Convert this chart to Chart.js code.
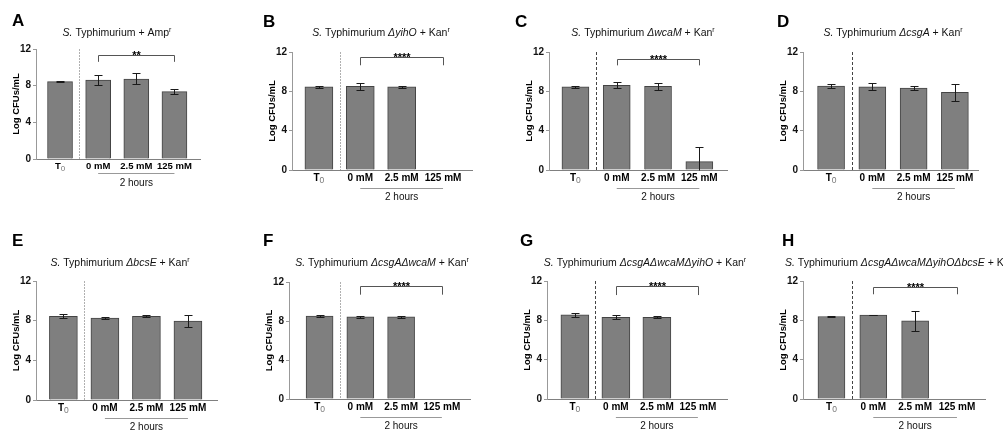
<!DOCTYPE html>
<html>
<head>
<meta charset="utf-8">
<script src="https://cdn.jsdelivr.net/npm/chart.js@4"></script>
<style>
body { margin: 0; background: #fff; width: 1003px; height: 431px; position: relative; overflow: hidden; }
canvas { position: absolute; }
</style>
</head>
<body>
<script>
// categories and axis ticks
var conditions = ["T0", "0 mM", "2.5 mM", "125 mM"];
var yTicks = [0, 4, 8, 12];
var groupLabel = "2 hours";

// mean Log CFUs/mL and error (SD) per panel
var meansA = [8.44, 8.62, 8.73, 7.35];  var errA = [0.05, 0.5, 0.6, 0.27];
var meansB = [8.45, 8.51, 8.45, 0];     var errB = [0.08, 0.33, 0.12, 0];
var meansC = [8.45, 8.61, 8.51, 0.85];  var errC = [0.08, 0.3, 0.33, 1.5];
var meansD = [8.54, 8.47, 8.34, 7.9];   var errD = [0.22, 0.33, 0.22, 0.85];
var meansE = [8.44, 8.27, 8.44, 7.97];  var errE = [0.22, 0.06, 0.1, 0.6];
var meansF = [8.5, 8.42, 8.42, 0];      var errF = [0.1, 0.1, 0.07, 0];
var meansG = [8.55, 8.31, 8.31, 0];     var errG = [0.22, 0.2, 0.08, 0];
var meansH = [8.39, 8.53, 7.95, 0];     var errH = [0.1, 0.03, 1.05, 0];

// strain deletions and resistance marker per panel
var strainsA = [];                                   var markerA = "Amp";
var strainsB = ["yihO"];                             var markerB = "Kan";
var strainsC = ["wcaM"];                             var markerC = "Kan";
var strainsD = ["csgA"];                             var markerD = "Kan";
var strainsE = ["bcsE"];                             var markerE = "Kan";
var strainsF = ["csgA", "wcaM"];                     var markerF = "Kan";
var strainsG = ["csgA", "wcaM", "yihO"];             var markerG = "Kan";
var strainsH = ["csgA", "wcaM", "yihO", "bcsE"];     var markerH = "Kan";

// significance (0 mM vs 125 mM)
var starsA = "**", starsB = "****", starsC = "****", starsD = "", starsE = "", starsF = "****", starsG = "****", starsH = "****";

var FONT = "'Liberation Sans', Arial, sans-serif";
var Y_AXIS_W = 22;
var LIGHT = { color: "#b0b0b0", dash: [2, 1] };
var DARK = { color: "#444", dash: [3, 2] };

function makeTitle(strains, marker) {
    var segs = [["S.", "i"], [" Typhimurium ", ""]];
    for (let i = 0; i < strains.length; i++) {
        segs.push(["\u0394" + strains[i], "i"]);
    }
    segs.push([(strains.length ? " " : "") + "+ " + marker, ""]);
    segs.push(["r", "sup"]);
    return segs;
}

var panels = [
    { id: "A", means: meansA, errs: errA, title: makeTitle(strainsA, markerA), stars: starsA,
      cx: 0, cy: 0, cw: 250, ch: 215, axisX: 36, top: 49, bottom: 159, right: 200, xMin: -0.63, xMax: 3.67, barW: 25,
      letterX: 12, letterY: 21, titleX: 117, titleY: 32, dash: LIGHT, gaps: [7, 14, 24], lblSize: 9.5, br: [10.6, 11.35] },
    { id: "B", means: meansB, errs: errB, title: makeTitle(strainsB, markerB), stars: starsB,
      cx: 250, cy: 0, cw: 250, ch: 215, axisX: 292, top: 52, bottom: 170, right: 472, xMin: -0.65, xMax: 3.7, barW: 28,
      letterX: 263, letterY: 22, titleX: 381, titleY: 32, dash: LIGHT, gaps: [8, 18, 27], lblSize: 10, br: [10.65, 11.5] },
    { id: "C", means: meansC, errs: errC, title: makeTitle(strainsC, markerC), stars: starsC,
      cx: 500, cy: 0, cw: 250, ch: 215, axisX: 549, top: 52, bottom: 170, right: 727, xMin: -0.64, xMax: 3.67, barW: 27,
      letterX: 515, letterY: 22, titleX: 643, titleY: 32, dash: DARK, gaps: [8, 18, 27], lblSize: 10, br: [10.64, 11.3] },
    { id: "D", means: meansD, errs: errD, title: makeTitle(strainsD, markerD), stars: starsD,
      cx: 750, cy: 0, cw: 253, ch: 215, axisX: 803, top: 52, bottom: 170, right: 978, xMin: -0.68, xMax: 3.56, barW: 27,
      letterX: 777, letterY: 22, titleX: 893, titleY: 32, dash: DARK, gaps: [8, 18, 27], lblSize: 10, br: null },
    { id: "E", means: meansE, errs: errE, title: makeTitle(strainsE, markerE), stars: starsE,
      cx: 0, cy: 215, cw: 250, ch: 216, axisX: 36, top: 281, bottom: 400, right: 217, xMin: -0.66, xMax: 3.7, barW: 28,
      letterX: 12, letterY: 241, titleX: 120, titleY: 262, dash: LIGHT, gaps: [8, 18, 27], lblSize: 10, br: null },
    { id: "F", means: meansF, errs: errF, title: makeTitle(strainsF, markerF), stars: starsF,
      cx: 250, cy: 215, cw: 250, ch: 216, axisX: 289, top: 282, bottom: 399, right: 470, xMin: -0.75, xMax: 3.69, barW: 27,
      letterX: 263, letterY: 241, titleX: 382, titleY: 262, dash: LIGHT, gaps: [8, 18, 27], lblSize: 10, br: [10.7, 11.56] },
    { id: "G", means: meansG, errs: errG, title: makeTitle(strainsG, markerG), stars: starsG,
      cx: 500, cy: 215, cw: 250, ch: 216, axisX: 547, top: 281, bottom: 399, right: 727, xMin: -0.68, xMax: 3.71, barW: 28,
      letterX: 520, letterY: 241, titleX: 645, titleY: 262, dash: DARK, gaps: [8, 18, 27], lblSize: 10, br: [10.57, 11.48] },
    { id: "H", means: meansH, errs: errH, title: makeTitle(strainsH, markerH), stars: starsH,
      cx: 750, cy: 215, cw: 253, ch: 216, axisX: 803, top: 281, bottom: 399, right: 985, xMin: -0.68, xMax: 3.67, barW: 27,
      letterX: 782, letterY: 241, titleX: 785, titleY: 262, titleLeft: true, dash: DARK, gaps: [8, 18, 27], lblSize: 10, br: [10.65, 11.39] }
];

function segFont(kind) {
    if (kind == "i") return "italic 10.5px " + FONT;
    if (kind == "sup") return "7px " + FONT;
    return "10.5px " + FONT;
}

var panelPlugin = {
    id: "panelDecor",
    afterDatasetsDraw: function (chart) {
        var p = chart.options.plugins.panelDecor.panel;
        var ctx = chart.ctx, xs = chart.scales.x, ys = chart.scales.y;
        ctx.save();
        ctx.strokeStyle = "#1a1a1a";
        ctx.lineWidth = 1;
        for (let i = 0; i < p.means.length; i++) {
            var e = p.errs[i];
            if (!e) continue;
            var x = Math.round(xs.getPixelForValue(i)) + 0.5;
            var hi = Math.round(ys.getPixelForValue(p.means[i] + e)) + 0.5;
            var lo = Math.round(ys.getPixelForValue(Math.max(0, p.means[i] - e))) + 0.5;
            ctx.beginPath();
            ctx.moveTo(x, hi); ctx.lineTo(x, lo);
            ctx.moveTo(x - 4, hi); ctx.lineTo(x + 4, hi);
            if (p.means[i] - e > 0) { ctx.moveTo(x - 4, lo); ctx.lineTo(x + 4, lo); }
            ctx.stroke();
        }
        ctx.restore();
    },
    afterDraw: function (chart) {
        var p = chart.options.plugins.panelDecor.panel;
        var ctx = chart.ctx, xs = chart.scales.x, ys = chart.scales.y;
        var area = chart.chartArea;
        var ox = p.cx, oy = p.cy;
        ctx.save();

        // panel letter
        ctx.fillStyle = "#000";
        ctx.font = "bold 17px " + FONT;
        ctx.textBaseline = "middle";
        ctx.textAlign = "left";
        ctx.fillText(p.id, p.letterX - ox, p.letterY - oy);

        // title with italic parts and superscript
        var total = 0;
        for (let s of p.title) { ctx.font = segFont(s[1]); total += ctx.measureText(s[0]).width; }
        var tx = p.titleLeft ? p.titleX - ox : p.titleX - ox - total / 2;
        var ty = p.titleY - oy + 4;
        ctx.textBaseline = "alphabetic";
        ctx.fillStyle = "#111";
        for (let s of p.title) {
            ctx.font = segFont(s[1]);
            ctx.fillText(s[0], tx, s[1] == "sup" ? ty - 4 : ty);
            tx += ctx.measureText(s[0]).width;
        }

        // y axis title
        ctx.save();
        ctx.translate(area.left - 20, (area.top + area.bottom) / 2);
        ctx.rotate(-Math.PI / 2);
        ctx.font = "bold 9.5px " + FONT;
        ctx.textAlign = "center";
        ctx.textBaseline = "middle";
        ctx.fillStyle = "#000";
        ctx.fillText("Log CFUs/mL", 0, 0);
        ctx.restore();

        // x category labels
        var ly = area.bottom + p.gaps[0];
        ctx.textBaseline = "middle";
        for (let i = 0; i < conditions.length; i++) {
            var cx = xs.getPixelForValue(i);
            if (conditions[i] == "T0") {
                ctx.font = "bold " + p.lblSize + "px " + FONT;
                var wT = ctx.measureText("T").width;
                ctx.font = (p.lblSize - 1.5) + "px " + FONT;
                var w0 = ctx.measureText("0").width;
                var sx = cx - (wT + w0) / 2;
                ctx.textAlign = "left";
                ctx.font = "bold " + p.lblSize + "px " + FONT;
                ctx.fillStyle = "#000";
                ctx.fillText("T", sx, ly);
                ctx.font = (p.lblSize - 1.5) + "px " + FONT;
                ctx.fillStyle = "#777";
                ctx.fillText("0", sx + wT, ly + 3);
            } else {
                ctx.textAlign = "center";
                ctx.font = "bold " + p.lblSize + "px " + FONT;
                ctx.fillStyle = "#000";
                ctx.fillText(conditions[i], cx, ly);
            }
        }

        // dashed separator between T0 and the 2 hour group
        var dx = Math.round(xs.getPixelForValue(0.5)) + 0.5;
        ctx.strokeStyle = p.dash.color;
        ctx.lineWidth = 1;
        ctx.setLineDash(p.dash.dash);
        ctx.beginPath();
        ctx.moveTo(dx, area.top);
        ctx.lineTo(dx, area.bottom);
        ctx.stroke();
        ctx.setLineDash([]);

        // "2 hours" group line and label
        var x1 = xs.getPixelForValue(1), x3 = xs.getPixelForValue(3);
        var uy = Math.round(area.bottom + p.gaps[1]) + 0.5;
        ctx.strokeStyle = "#999";
        ctx.beginPath();
        ctx.moveTo(x1, uy); ctx.lineTo(x3, uy);
        ctx.stroke();
        ctx.font = "10px " + FONT;
        ctx.fillStyle = "#111";
        ctx.textAlign = "center";
        ctx.fillText(groupLabel, xs.getPixelForValue(2), area.bottom + p.gaps[2]);

        // significance bracket
        if (p.stars) {
            var bl = ys.getPixelForValue(p.br[0]);
            var bt = Math.round(ys.getPixelForValue(p.br[1])) + 0.5;
            var b1 = Math.round(x1) + 0.5, b3 = Math.round(x3) + 0.5;
            ctx.strokeStyle = "#555";
            ctx.beginPath();
            ctx.moveTo(b1, bl); ctx.lineTo(b1, bt); ctx.lineTo(b3, bt); ctx.lineTo(b3, bl);
            ctx.stroke();
            ctx.font = "bold 11px " + FONT;
            ctx.fillStyle = "#000";
            ctx.textBaseline = "alphabetic";
            ctx.fillText(p.stars, (b1 + b3) / 2, bt + 3);
        }
        ctx.restore();
    }
};

for (let k = 0; k < panels.length; k++) {
    const p = panels[k];
    var cv = document.createElement("canvas");
    cv.width = p.cw; cv.height = p.ch;
    cv.style.left = p.cx + "px"; cv.style.top = p.cy + "px";
    document.body.appendChild(cv);

    new Chart(cv.getContext("2d"), {
        type: "bar",
        data: {
            datasets: [{
                data: p.means.map((v, i) => ({ x: i, y: v })),
                backgroundColor: "#7f7f7f",
                borderColor: "#444",
                borderWidth: 1,
                borderSkipped: "start",
                barThickness: p.barW
            }]
        },
        options: {
            responsive: false,
            animation: false,
            events: [],
            layout: {
                padding: {
                    left: p.axisX - p.cx - Y_AXIS_W,
                    top: p.top - p.cy,
                    right: p.cx + p.cw - p.right,
                    bottom: p.cy + p.ch - p.bottom
                }
            },
            plugins: {
                legend: { display: false },
                tooltip: { enabled: false },
                panelDecor: { panel: p }
            },
            scales: {
                x: {
                    type: "linear",
                    offset: false,
                    grace: 0,
                    min: p.xMin,
                    max: p.xMax,
                    afterBuildTicks: s => { s.ticks = [0, 1, 2, 3].map(v => ({ value: v })); },
                    ticks: { display: false },
                    grid: { display: false, offset: false },
                    border: { color: "#808080", width: 1 },
                    afterFit: s => { s.height = 0; }
                },
                y: {
                    min: 0,
                    max: 12,
                    afterBuildTicks: s => { s.ticks = yTicks.map(v => ({ value: v })); },
                    ticks: { font: { family: FONT, size: 10, weight: "bold" }, color: "#111", padding: 2 },
                    grid: { drawOnChartArea: false, tickLength: 3, color: "#999" },
                    border: { color: "#999", width: 1 },
                    afterFit: s => { s.width = Y_AXIS_W; }
                }
            }
        },
        plugins: [panelPlugin]
    });
}
</script>
</body>
</html>
